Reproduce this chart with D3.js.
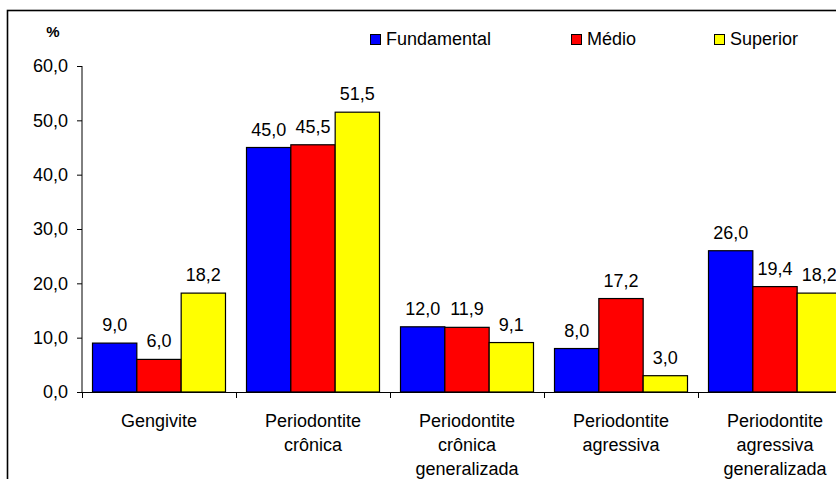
<!DOCTYPE html>
<html>
<head>
<meta charset="utf-8">
<script src="https://cdn.jsdelivr.net/npm/d3@7"></script>
<style>
  html, body { margin: 0; padding: 0; background: #fff; }
  svg { display: block; font-family: Arial, "Liberation Sans", sans-serif; }
</style>
</head>
<body>
<svg id="chart" width="836" height="479"></svg>
<script>
// Data
const categories = [
  ["Gengivite"],
  ["Periodontite", "crônica"],
  ["Periodontite", "crônica", "generalizada"],
  ["Periodontite", "agressiva"],
  ["Periodontite", "agressiva", "generalizada"]
];
const seriesNames = ["Fundamental", "Médio", "Superior"];
const fundamental = [9.0, 45.0, 12.0, 8.0, 26.0];
const medio       = [6.0, 45.5, 11.9, 17.2, 19.4];
const superior    = [18.2, 51.5, 9.1, 3.0, 18.2];
const yTicks = [0, 10, 20, 30, 40, 50, 60];
const colors = ["#0000ff", "#ff0000", "#ffff00"];

const seriesValues = [fundamental, medio, superior];

const svg = d3.select("#chart");
const ptBR = d3.formatLocale({ decimal: ",", thousands: ".", grouping: [3], currency: ["R$", ""] });
const fmt = ptBR.format(".1f");

// Outer frame
svg.append("rect")
  .attr("x", 7.5).attr("y", 10.5)
  .attr("width", 900).attr("height", 600)
  .attr("fill", "none").attr("stroke", "#000").attr("stroke-width", 1.6);

// Scales
const catKeys = categories.map((d, i) => i);
const x0 = d3.scaleBand().domain(catKeys).range([82, 852]).paddingInner(0).paddingOuter(0);
const x1 = d3.scaleBand().domain(seriesNames).range([0, x0.bandwidth()]).paddingInner(0).paddingOuter(0.237);
const y = d3.scaleLinear().domain([0, 60]).range([392, 66]);

// Y axis
const yAxis = svg.append("g")
  .attr("transform", "translate(82,0)")
  .call(d3.axisLeft(y).tickValues(yTicks).tickFormat(fmt).tickSize(5).tickPadding(9));
yAxis.select(".domain").attr("stroke", "#000").attr("d", "M0,66V392");
yAxis.selectAll(".tick line").attr("stroke", "#000");
yAxis.selectAll(".tick text")
  .attr("font-size", 18).attr("font-family", "Arial, 'Liberation Sans', sans-serif")
  .attr("fill", "#000");

// X axis baseline with ticks at category boundaries
svg.append("line")
  .attr("x1", 82).attr("x2", 852).attr("y1", y(0) + 0.5).attr("y2", y(0) + 0.5)
  .attr("stroke", "#000");
const bounds = catKeys.map(k => x0(k)).concat([x0.range()[1]]);
svg.selectAll("line.xtick").data(bounds).enter().append("line")
  .attr("class", "xtick")
  .attr("x1", d => Math.round(d) + 0.5).attr("x2", d => Math.round(d) + 0.5)
  .attr("y1", y(0)).attr("y2", y(0) + 6)
  .attr("stroke", "#000");

// Bars
const groups = svg.selectAll("g.cat").data(catKeys).enter().append("g")
  .attr("class", "cat")
  .attr("transform", k => `translate(${x0(k)},0)`);

groups.each(function (k) {
  const g = d3.select(this);
  const rows = seriesNames.map((s, si) => ({ s, si, v: seriesValues[si][k] }));
  g.selectAll("rect").data(rows).enter().append("rect")
    .attr("x", d => x1(d.s))
    .attr("y", d => y(d.v))
    .attr("width", x1.bandwidth())
    .attr("height", d => y(0) - y(d.v))
    .attr("fill", d => colors[d.si])
    .attr("stroke", "#000")
    .attr("stroke-width", 1.2);
  g.selectAll("text.val").data(rows).enter().append("text")
    .attr("class", "val")
    .attr("x", d => x1(d.s) + x1.bandwidth() / 2)
    .attr("y", d => y(d.v) - 12)
    .attr("text-anchor", "middle")
    .attr("font-size", 18)
    .attr("fill", "#000")
    .text(d => fmt(d.v));
});

// Category labels
const catLabels = svg.selectAll("text.cat").data(catKeys).enter().append("text")
  .attr("class", "cat")
  .attr("text-anchor", "middle")
  .attr("font-size", 18)
  .attr("fill", "#000")
  .attr("transform", k => `translate(${x0(k) + x0.bandwidth() / 2},427)`);
catLabels.each(function (k) {
  d3.select(this).selectAll("tspan").data(categories[k]).enter().append("tspan")
    .attr("x", 0)
    .attr("y", (d, i) => i * 24)
    .text(d => d);
});

// Unit label
svg.append("text")
  .attr("x", 53).attr("y", 37)
  .attr("text-anchor", "middle")
  .attr("font-size", 15).attr("font-weight", "bold")
  .attr("fill", "#000")
  .text("%");

// Legend
const legendX = [370, 571, 714];
const legend = svg.selectAll("g.leg").data(seriesNames).enter().append("g")
  .attr("class", "leg")
  .attr("transform", (d, i) => `translate(${legendX[i]},34)`);
legend.append("rect")
  .attr("x", 0.5).attr("y", 0.5).attr("width", 10).attr("height", 10)
  .attr("fill", (d, i) => colors[i]).attr("stroke", "#000").attr("stroke-width", 1);
legend.append("text")
  .attr("x", 16).attr("y", 10.5)
  .attr("font-size", 18).attr("fill", "#000")
  .text(d => d);
</script>
</body>
</html>
